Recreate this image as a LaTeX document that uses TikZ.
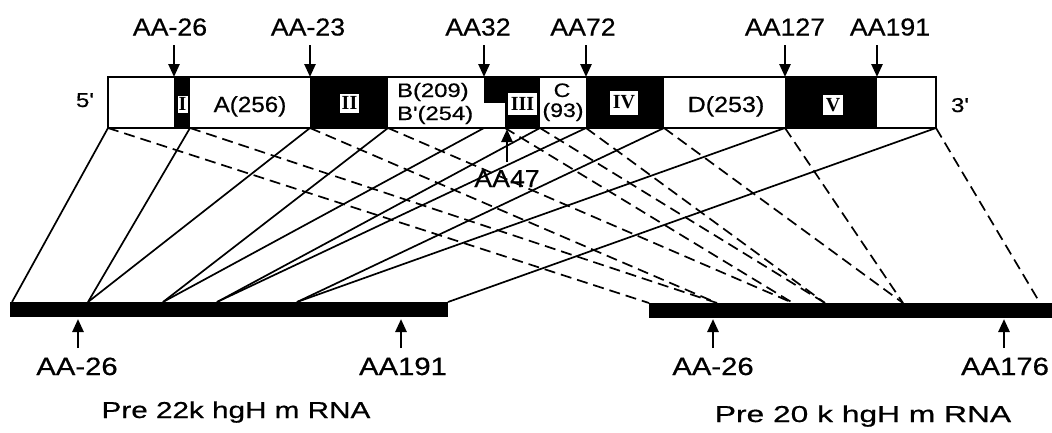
\documentclass[tikz,border=0pt]{standalone}
\usepackage{fontspec}
\setmainfont{Liberation Sans}[FakeBold=0.5,Ligatures=TeXOff]
\newfontfamily\romfont{Liberation Serif}
\usetikzlibrary{arrows.meta}
\newcommand\wtxt[3]{\scalebox{#1}[1]{\fontsize{#2}{#2}\selectfont #3}}
\begin{document}
\begin{tikzpicture}[x=1pt,y=-1pt,
  txt/.style={inner sep=0pt,anchor=base},
  genebox/.style={draw=black,line width=2.4pt},
  exonfill/.style={fill=black},
  numbox/.style={draw=black,fill=white,line width=0.6pt,inner sep=0pt,
    font=\romfont\bfseries\fontsize{20}{20}\selectfont},
  sol/.style={line width=1.7pt},
  dsh/.style={line width=1.7pt,dash pattern=on 11pt off 6pt},
  arr/.style={line width=2.6pt,-{Triangle[length=13pt,width=11pt]}},
  mrna/.style={fill=black}]
\useasboundingbox (0,0) rectangle (1052,432);

% coordinates
\foreach \x in {108,174,190,310,388,484,505,540,586,664,785,877,936}
  {\coordinate (g\x) at (\x,128); \coordinate (t\x) at (\x,77);}
\foreach \x in {12,88,163,217,297,448} \coordinate (l\x) at (\x,302);
\foreach \x in {649,717,793,825,903,1040} \coordinate (r\x) at (\x,303);

% connectors: 22k (solid)
\foreach \a/\b in {108/12,190/88,310/88,388/163,484/163,540/217,586/217,664/297,785/297,936/448}
  \draw[sol] (g\a) -- (l\b);
% connectors: 20k (dashed)
\foreach \a/\b in {108/649,190/717,310/717,388/793,505/793,540/825,586/825,664/903,785/903,936/1040}
  \draw[dsh] (g\a) -- (r\b);

% gene
\fill[exonfill] (174,77) rectangle (190,128);
\fill[exonfill] (310,77) rectangle (388,128);
\fill[exonfill] (505,77) rectangle (540,128);
\fill[exonfill] (484,77) rectangle (505,103);
\fill[exonfill] (586,77) rectangle (664,128);
\fill[exonfill] (785,77) rectangle (877,128);
\draw[genebox] (108,77) rectangle (936,128);

\node[numbox,minimum width=11pt,minimum height=18pt] (n1) at (182.5,104) {I};
\node[numbox,minimum width=20pt,minimum height=20pt] (n2) at (349.5,103) {II};
\node[numbox,minimum width=30pt,minimum height=23pt] (n3) at (522.5,103.5) {III};
\node[numbox,minimum width=29pt,minimum height=25pt] (n4) at (624,102.5) {IV};
\node[numbox,minimum width=21pt,minimum height=21pt] (n5) at (833,105) {V};

\node[txt] (iA) at (250,112) {\wtxt{1.1}{22}{A(256)}};
\node[txt,anchor=base west] (iB) at (397,97) {\wtxt{1.22}{19.5}{B(209)}};
\node[txt,anchor=base west] (iBp) at (397,120) {\wtxt{1.22}{19.5}{B'(254)}};
\node[txt] (iC) at (562,97) {\wtxt{1.18}{19.5}{C}};
\node[txt] (iC2) at (563,117) {\wtxt{1.18}{19.5}{(93)}};
\node[txt] (iD) at (726,112) {\wtxt{1.14}{22}{D(253)}};
\node[txt] (p5) at (85,107) {\wtxt{1.2}{20}{5'}};
\node[txt] (p3) at (960,112) {\wtxt{1.2}{20}{3'}};

% top markers
\foreach \x/\lx/\t in {174/170/AA-26,310/308/AA-23,484/478/AA32,586/583/AA72,785/785/AA127,877/890/AA191}{
  \coordinate (a\x) at (\x,45);
  \draw[arr] (a\x) -- (t\x);
  \node[txt] (L\x) at (\lx,35.5) {\wtxt{1.09}{24.5}{\t}};
}
\coordinate (a47) at (507,162);
\coordinate (t47) at (507,129);
\draw[arr] (a47) -- (t47);
\node[txt] (L47) at (507,187) {\wtxt{1.09}{24.5}{AA47}};

% mRNA bars
\fill[mrna] (10,302) rectangle (448,317);
\fill[mrna] (649,303) rectangle (1052,318);

% bottom markers
\foreach \x/\lx/\t in {78/77/AA-26,401/403/AA191,713/713/AA-26,1004/1005/AA176}{
  \coordinate (b\x) at (\x,348);
  \coordinate (u\x) at (\x,319);
  \draw[arr] (b\x) -- (u\x);
  \node[txt] (B\x) at (\lx,375) {\wtxt{1.17}{25}{\t}};
}

\node[txt] (pre22) at (236,418) {\wtxt{1.29}{23}{Pre 22k hgH m RNA}};
\node[txt] (pre20) at (863,422) {\wtxt{1.38}{23}{Pre 20 k hgH m RNA}};
\end{tikzpicture}
\end{document}
